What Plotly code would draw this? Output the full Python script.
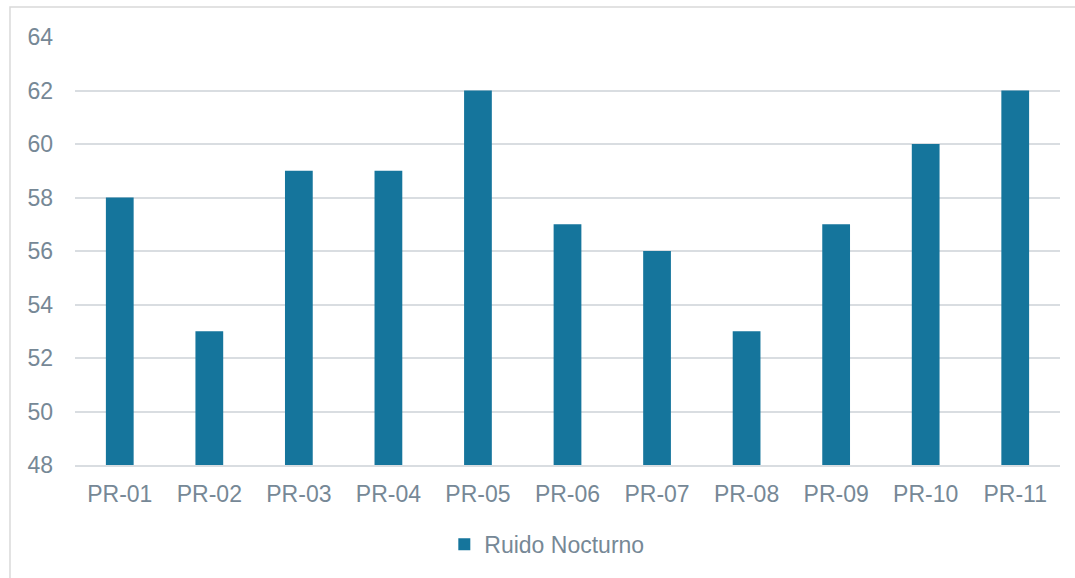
import plotly.graph_objects as go

categories = ["PR-01", "PR-02", "PR-03", "PR-04", "PR-05", "PR-06", "PR-07", "PR-08", "PR-09", "PR-10", "PR-11"]
ruido_nocturno = [58, 53, 59, 59, 62, 57, 56, 53, 57, 60, 62]
y_ticks = [48, 50, 52, 54, 56, 58, 60, 62, 64]

text_color = "#768896"
bar_color = "#15759c"
grid_color = "#d9dde1"

fig = go.Figure()
fig.add_trace(go.Bar(
    x=categories, y=ruido_nocturno, name="Ruido Nocturno",
    marker=dict(color=bar_color, line=dict(width=0)),
))

fig.update_layout(
    width=1075, height=578,
    margin=dict(l=75, r=15, t=37, b=110),
    paper_bgcolor="white", plot_bgcolor="white",
    bargap=0.69,
    font=dict(family="Liberation Sans, Arial, sans-serif", size=23, color=text_color),
    showlegend=True,
    legend=dict(orientation="h", x=0.479, xanchor="center", y=-0.135, yanchor="top",
                font=dict(size=23, color=text_color)),
    shapes=[dict(type="rect", xref="paper", yref="paper",
                 x0=-0.066, x1=1.05, y0=-0.6, y1=1.07,
                 line=dict(color="#d9d9d9", width=1.5), layer="below")],
)
fig.update_xaxes(showgrid=False, showline=True, linecolor=grid_color, linewidth=2,
                 ticks="", tickfont=dict(size=23, color=text_color), ticklabelstandoff=7)
fig.update_yaxes(range=[48, 64], tickvals=y_ticks, showgrid=True, gridcolor=grid_color,
                 gridwidth=2, zeroline=False, showline=False,
                 tickfont=dict(size=23, color=text_color), ticklabelstandoff=21)

fig.write_html("out.html")
